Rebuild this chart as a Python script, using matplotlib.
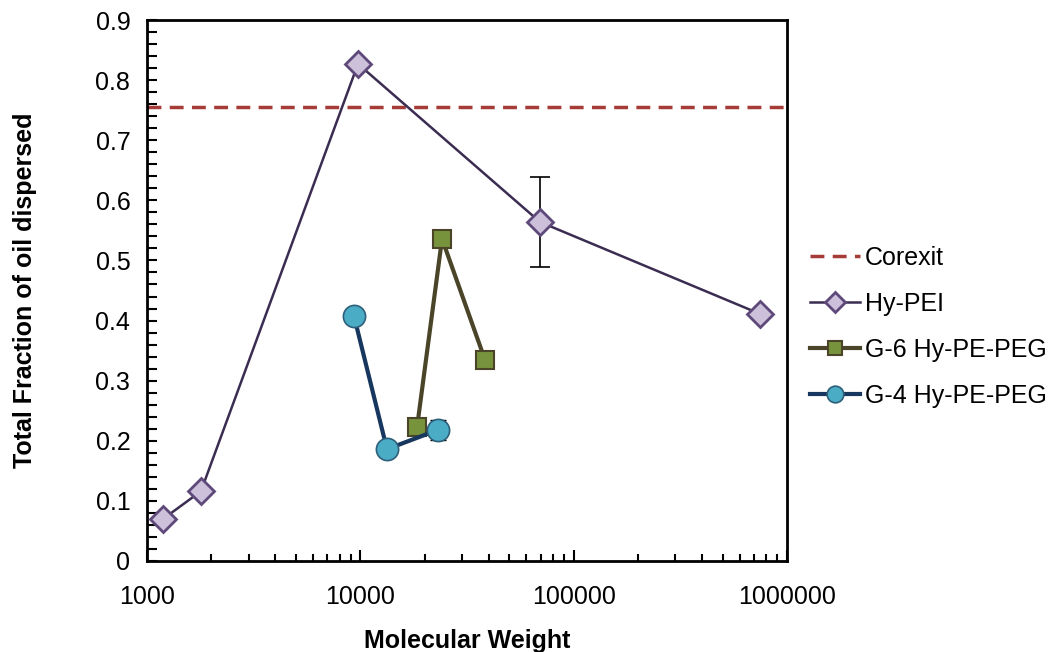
import numpy as np
import matplotlib.pyplot as plt
from matplotlib.ticker import FixedLocator, NullFormatter, MultipleLocator, FuncFormatter

plt.rcParams['font.family'] = ['Liberation Sans', 'DejaVu Sans']

# Data
corexit = 0.755

pei_mw = [1190, 1790, 9750, 69500, 748000]
pei_frac = [0.070, 0.116, 0.827, 0.564, 0.411]
pei_err = [0, 0, 0, 0.075, 0]

g6_mw = [18450, 24150, 38450]
g6_frac = [0.223, 0.536, 0.334]

g4_mw = [9330, 13330, 23100]
g4_frac = [0.408, 0.186, 0.218]
g4_err = [0, 0, 0.016]

fig = plt.figure(figsize=(10.53, 6.52), dpi=100)
ax = fig.add_axes([0.1396, 0.1396, 0.6078, 0.8297])

ax.axhline(corexit, color='#a63c38', lw=2.5, ls=(0, (4, 2.4)), label='Corexit', zorder=2)

# error bars (no legend entry)
ax.errorbar(pei_mw, pei_frac, yerr=pei_err, fmt='none', ecolor='black',
            elinewidth=1.2, capsize=7, capthick=1.2, zorder=2.5)
ax.errorbar(g4_mw, g4_frac, yerr=g4_err, fmt='none', ecolor='black',
            elinewidth=1, capsize=6, capthick=1, zorder=2.5)

ax.plot(pei_mw, pei_frac, color='#3b2d52', lw=1.8,
        marker='D', ms=13, mfc='#ccc0da', mec='#5f497a', mew=2,
        label='Hy-PEI', zorder=3)
ax.plot(g6_mw, g6_frac, color='#4a4528', lw=3,
        marker='s', ms=13, mfc='#77933c', mec='#4a4528', mew=1.5,
        label='G-6 Hy-PE-PEG', zorder=4)
ax.plot(g4_mw, g4_frac, color='#17375e', lw=3,
        marker='o', ms=16, mfc='#4bacc6', mec='#2e5f7a', mew=1.2,
        label='G-4 Hy-PE-PEG', zorder=5)

ax.set_xscale('log')
ax.set_xlim(1000, 1000000)
ax.set_ylim(0, 0.9)
ax.xaxis.set_major_locator(FixedLocator([1000, 10000, 100000, 1000000]))
ax.xaxis.set_major_formatter(FuncFormatter(lambda v, p: f'{int(round(v))}'))
ax.xaxis.set_minor_formatter(NullFormatter())
ax.yaxis.set_major_locator(MultipleLocator(0.1))
ax.yaxis.set_minor_locator(MultipleLocator(0.02))
ax.yaxis.set_major_formatter(FuncFormatter(lambda v, p: '0' if abs(v) < 1e-9 else f'{v:.1f}'))

ax.tick_params(which='both', direction='in', labelsize=18, width=1.5)
ax.tick_params(axis='x', which='major', length=8, pad=17)
ax.tick_params(axis='x', which='minor', length=5)
ax.tick_params(axis='y', which='both', length=7, pad=12)
for s in ax.spines.values():
    s.set_linewidth(2)

ax.set_xlabel('Molecular Weight', fontsize=18, fontweight='bold', labelpad=15)
ax.set_ylabel('Total Fraction of oil dispersed', fontsize=18, fontweight='bold', labelpad=42)

leg = fig.legend(loc='upper left', bbox_to_anchor=(0.748, 0.657), frameon=False,
                 fontsize=18, handlelength=2.0, handletextpad=0.2, labelspacing=0.88,
                 markerscale=0.75)

fig.savefig('out.png', dpi=100)
